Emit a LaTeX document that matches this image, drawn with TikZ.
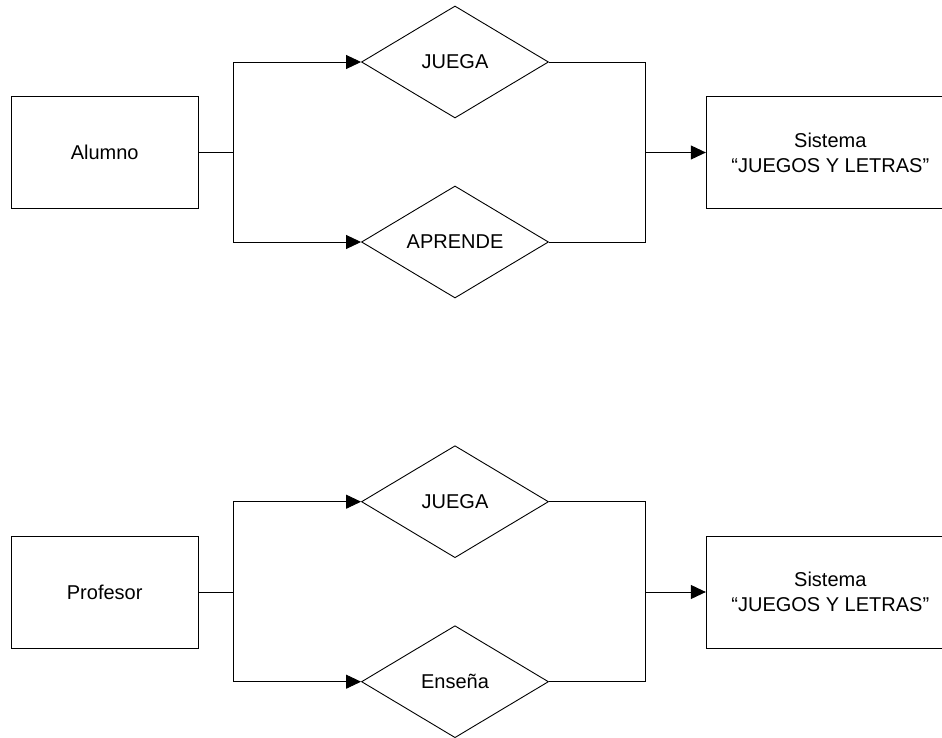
\documentclass[tikz,border=0pt]{standalone}
\usepackage{fontspec}
\setmainfont{Liberation Sans}
\usepackage{tikz}
\usetikzlibrary{shapes.geometric,arrows.meta}

\begin{document}
\begin{tikzpicture}[x=1pt, y=-1pt, line width=0.9pt,
  every node/.style={font=\fontsize{20}{25}\selectfont, align=center, inner sep=0pt},
  entidad/.style={draw, rectangle, minimum width=187pt, minimum height=112pt},
  sistema/.style={draw, rectangle, minimum width=248pt, minimum height=112pt},
  relacion/.style={draw, diamond, minimum width=187pt, minimum height=112pt, aspect=1.67},
  flecha/.style={-{Triangle[length=15pt,width=14pt]}}]

\path[use as bounding box, clip] (0,0) rectangle (942,738);

% Alumno
\node[entidad] (alumno) at (104.7,152.5) {Alumno};
\node[relacion] (juega1) at (455,62) {JUEGA};
\node[relacion] (aprende) at (455,242) {APRENDE};
\node[sistema] (sistema1) at (830.3,152.5) {Sistema\\``JUEGOS Y LETRAS''};
\coordinate (j1) at (233,152.5);
\coordinate (k1) at (645.3,152.5);

\draw (alumno.east) -- (j1);
\draw[flecha] (j1) |- (juega1.west);
\draw[flecha] (j1) |- (aprende.west);
\draw (juega1.east) -| (k1) |- (aprende.east);
\draw[flecha] (k1) -- (sistema1.west);

% Profesor
\node[entidad] (profesor) at (104.7,592) {Profesor};
\node[relacion] (juega2) at (455,501.7) {JUEGA};
\node[relacion] (ensena) at (455,681.7) {Enseña};
\node[sistema] (sistema2) at (830.3,592) {Sistema\\``JUEGOS Y LETRAS''};
\coordinate (j2) at (233,592);
\coordinate (k2) at (645.3,592);

\draw (profesor.east) -- (j2);
\draw[flecha] (j2) |- (juega2.west);
\draw[flecha] (j2) |- (ensena.west);
\draw (juega2.east) -| (k2) |- (ensena.east);
\draw[flecha] (k2) -- (sistema2.west);

\end{tikzpicture}
\end{document}
